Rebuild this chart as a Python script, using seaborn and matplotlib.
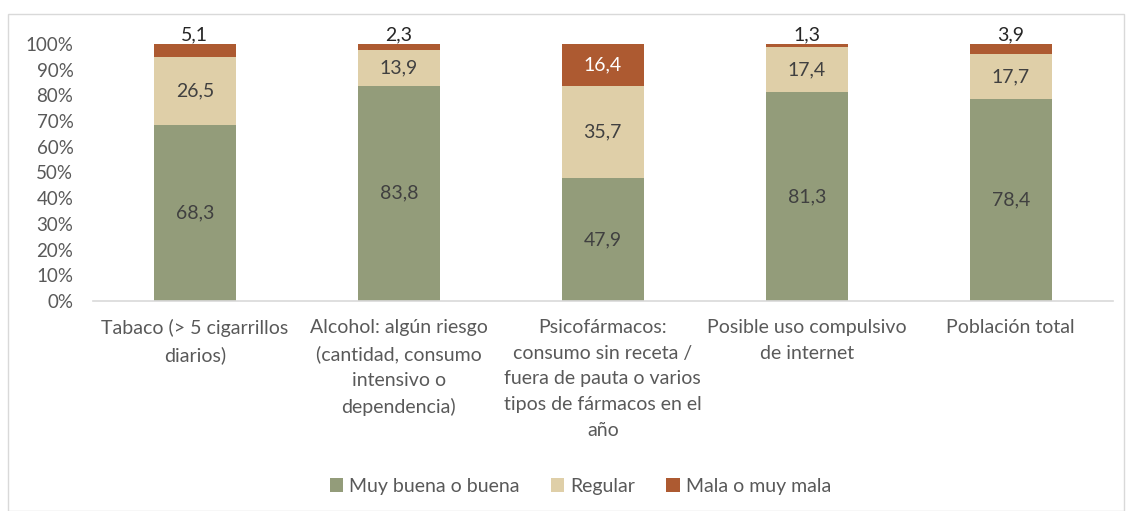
import numpy as np
import pandas as pd
import seaborn as sns
import matplotlib.pyplot as plt
from matplotlib.patches import Rectangle

categorias = [
    "Tabaco (> 5 cigarrillos\ndiarios)",
    "Alcohol: algún riesgo\n(cantidad, consumo\nintensivo o\ndependencia)",
    "Psicofármacos:\nconsumo sin receta /\nfuera de pauta o varios\ntipos de fármacos en el\naño",
    "Posible uso compulsivo\nde internet",
    "Población total",
]
muy_buena = [68.3, 83.8, 47.9, 81.3, 78.4]
regular = [26.5, 13.9, 35.7, 17.4, 17.7]
mala = [5.1, 2.3, 16.4, 1.3, 3.9]
series = ["Muy buena o buena", "Regular", "Mala o muy mala"]
colores = ["#939C7A", "#DFCFA8", "#AD5A31"]

sns.set_theme(style="white")
plt.rcParams["font.family"] = ["Lato", "DejaVu Sans"]

df = pd.DataFrame({"cat": categorias, series[0]: muy_buena,
                   series[1]: regular, series[2]: mala})
total = df[series].sum(axis=1)
pct = df[series].div(total, axis=0) * 100

fig = plt.figure(figsize=(11.32, 5.11), dpi=100)
ax = fig.add_axes([0.082, 0.411, 0.901, 0.503])
fig.patches.append(Rectangle((0.007, 0.0), 0.986, 0.972, transform=fig.transFigure,
                             fill=False, edgecolor="#D9D9D9", linewidth=1))

bottom = np.zeros(len(categorias))
for s, c in zip(series, colores):
    sns.barplot(x=df["cat"], y=pct[s], bottom=bottom, color=c, width=0.4,
                ax=ax, label=s, saturation=1, linewidth=0)
    bottom = bottom + pct[s].values

fs = 14
txt = "#404040"
for i in range(len(categorias)):
    b = 0
    for j, s in enumerate(series):
        h = pct[s].iloc[i]
        lab = f"{df[s].iloc[i]:.1f}".replace(".", ",")
        if j == 2 and h < 10:
            ax.text(i, 100.3, lab, ha="center", va="bottom", fontsize=fs, color="#262626")
        else:
            ax.text(i, b + h / 2, lab, ha="center", va="center", fontsize=fs,
                    color="white" if j == 2 else txt)
        b += h

ax.set_xlim(-0.5, 4.5)
ax.set_ylim(0, 100)
ax.set_yticks(range(0, 101, 10))
ax.set_yticklabels([f"{v}%" for v in range(0, 101, 10)])
ax.set_xlabel("")
ax.set_ylabel("")
ax.tick_params(axis="both", labelsize=fs, colors="#595959", length=0)
ax.tick_params(axis="y", labelsize=13.5, pad=14)
ax.tick_params(axis="x", pad=13)
for lbl in ax.get_xticklabels():
    lbl.set_linespacing(1.62)
for sp in ["top", "right", "left"]:
    ax.spines[sp].set_visible(False)
ax.spines["bottom"].set_color("#D9D9D9")
ax.spines["bottom"].set_linewidth(1.2)

ax.legend(loc="center", bbox_to_anchor=(0.478, -0.72), ncol=3, frameon=False,
          fontsize=fs, handlelength=0.7, handleheight=0.7, handletextpad=0.3,
          columnspacing=1.6, labelcolor="#595959")

fig.savefig("out.png", dpi=100)
